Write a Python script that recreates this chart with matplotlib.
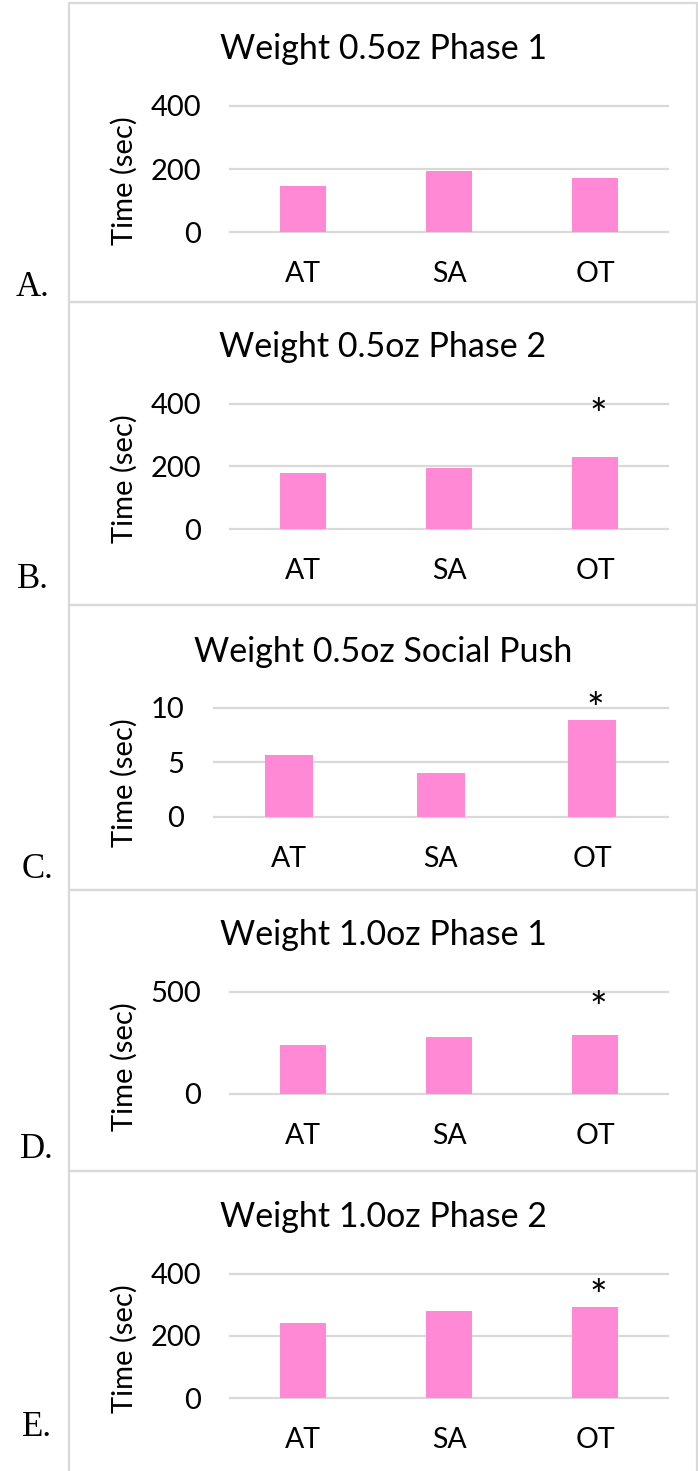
import matplotlib
matplotlib.use("Agg")
import matplotlib.pyplot as plt
from matplotlib.patches import Rectangle

categories = ["AT", "SA", "OT"]

titles = [
    "Weight 0.5oz Phase 1",
    "Weight 0.5oz Phase 2",
    "Weight 0.5oz Social Push",
    "Weight 1.0oz Phase 1",
    "Weight 1.0oz Phase 2",
]
panel_letters = ["A.", "B.", "C.", "D.", "E."]

phase1_05 = [146, 195, 172]
phase2_05 = [180, 194, 229]
social_push_05 = [5.7, 4.0, 8.9]
phase1_10 = [240, 279, 291]
phase2_10 = [241, 279, 293]
series = [phase1_05, phase2_05, social_push_05, phase1_10, phase2_10]

y_max = [400, 400, 10, 500, 400]
y_ticks = [[0, 200, 400], [0, 200, 400], [0, 5, 10], [0, 500], [0, 200, 400]]
# height of the significance star over OT (None = no star)
star_y = [None, 400, 10.9, 474, 364]

W, H = 698, 1471
PINK = "#FF89D5"
GRID = "#D9D9D9"

plt.rcParams["font.family"] = ["Lato", "DejaVu Sans"]
fig = plt.figure(figsize=(W / 100, H / 100), dpi=100)


def fx(px):
    return px / W


def fy(py):
    return 1 - py / H


# panel boxes (top, bottom) in pixels
boxes = [(3, 302), (302, 605), (605, 890), (890, 1171), (1171, 1480)]
# plot areas: left, right, top, bottom
areas = [
    (230, 668, 105.7, 232.3),
    (230, 668, 403.7, 529),
    (213.5, 668, 707.7, 816.7),
    (230, 668, 992, 1094),
    (230, 668, 1273.7, 1398.3),
]
title_base = [59, 357, 662, 945, 1227]
ylabel_cy = [181, 479, 783, 1067, 1349]
letter_pos = [(16, 296), (17, 588), (22, 878), (20, 1158), (22, 1436)]

for i in range(5):
    top, bot = boxes[i]
    fig.patches.append(Rectangle((fx(69), fy(bot)), fx(697) - fx(69), (bot - top) / H,
                                 transform=fig.transFigure, fill=False,
                                 edgecolor=GRID, linewidth=1.6))

    l, r, t, b = areas[i]
    ax = fig.add_axes([fx(l), fy(b), (r - l) / W, (b - t) / H])
    ax.bar(range(3), series[i], width=0.315, color=PINK, zorder=2)
    ax.set_xlim(-0.5, 2.5)
    ax.set_ylim(0, y_max[i])
    ax.set_yticks(y_ticks[i])
    ax.set_xticks(range(3), categories)
    ax.tick_params(axis="x", length=0, pad=21, labelsize=20.5)
    ax.tick_params(axis="y", length=0, pad=21, labelsize=21)
    for s in ax.spines.values():
        s.set_visible(False)
    ax.yaxis.grid(True, color=GRID, linewidth=1.6, zorder=0)
    for gl in ax.get_ygridlines():
        gl.set_clip_on(False)
    ax.set_axisbelow(True)

    if star_y[i] is not None:
        ax.annotate("*", (2.02, star_y[i]), xytext=(0, -25), textcoords="offset pixels",
                    ha="center", va="baseline", fontsize=30, annotation_clip=False)

    fig.text(fx(383), fy(title_base[i]), titles[i], ha="center", va="baseline", fontsize=24.5)
    fig.text(fx(124), fy(ylabel_cy[i]), "Time (sec)", rotation=90,
             ha="center", va="center", fontsize=21)
    lx, ly = letter_pos[i]
    fig.text(fx(lx), fy(ly), panel_letters[i], ha="left", va="baseline",
             fontsize=25, family=["Liberation Serif", "DejaVu Serif"])

fig.savefig("out.png", dpi=100)
